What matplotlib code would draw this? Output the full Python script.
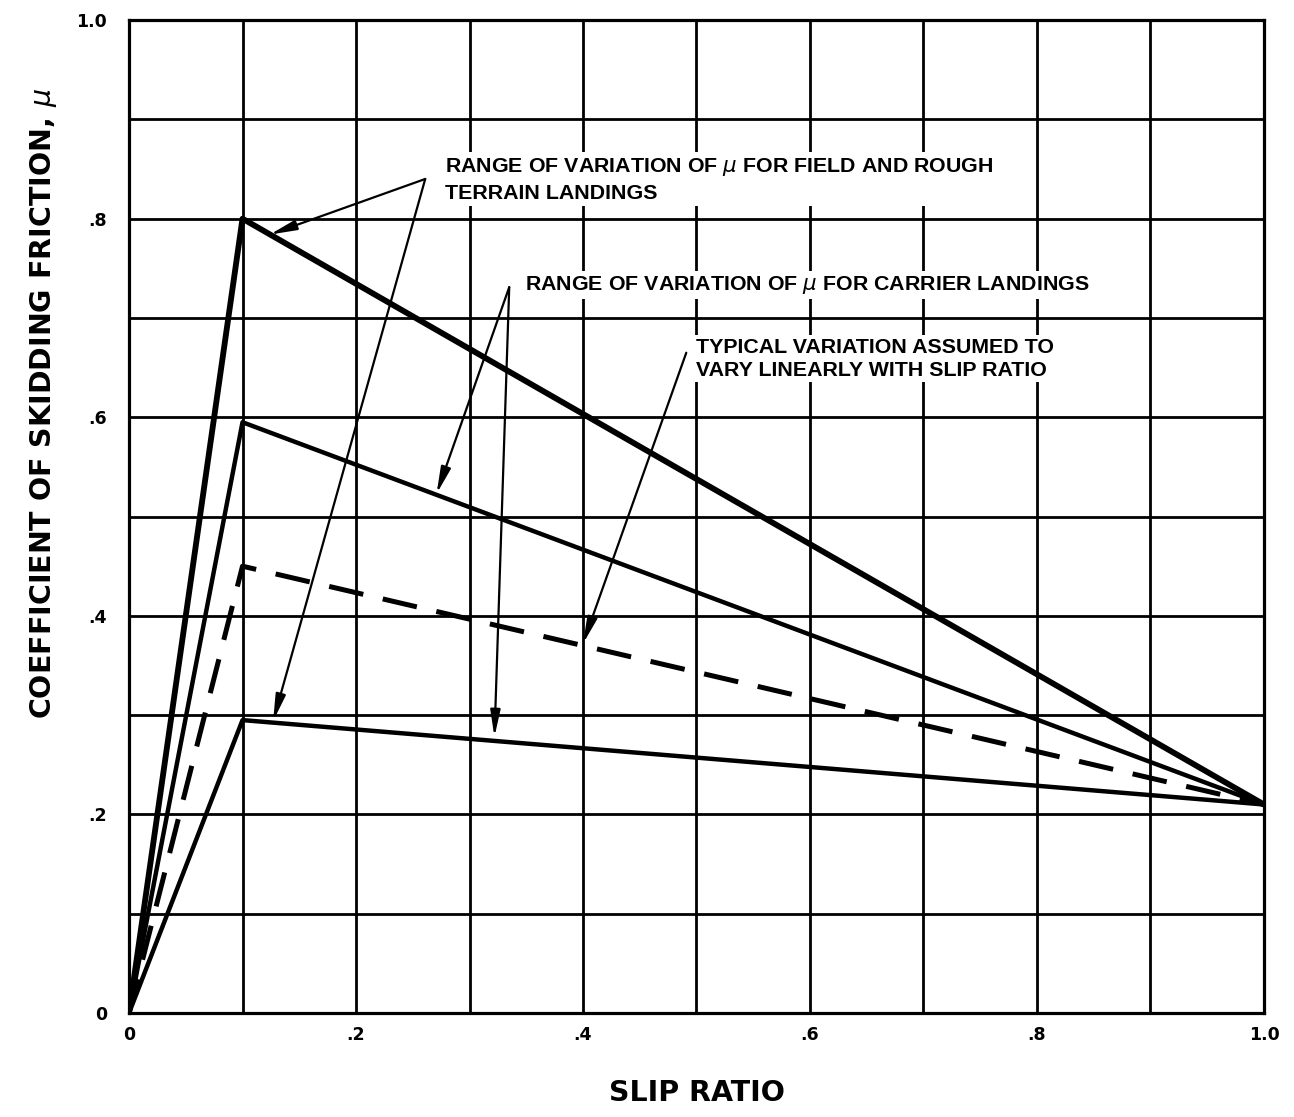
import matplotlib
matplotlib.use("Agg")
import matplotlib.pyplot as plt

# ---- data ----
slip = [0.0, 0.1, 1.0]
field_upper = [0.0, 0.80, 0.21]
carrier_upper = [0.0, 0.595, 0.21]
typical = [0.0, 0.45, 0.21]
lower = [0.0, 0.295, 0.21]

grid_ticks = [i / 10 for i in range(11)]
tick_labels = ["0", "", ".2", "", ".4", "", ".6", "", ".8", "", "1.0"]

ann1_text = "RANGE OF VARIATION OF $\\mu$ FOR FIELD AND ROUGH\nTERRAIN LANDINGS"
ann2_text = "RANGE OF VARIATION OF $\\mu$ FOR CARRIER LANDINGS"
ann3_text = "TYPICAL VARIATION ASSUMED TO\nVARY LINEARLY WITH SLIP RATIO"

fig = plt.figure(figsize=(12.94, 11.17), dpi=100)
ax = fig.add_axes([0.0997, 0.0931, 0.8771, 0.8889])

ax.set_xlim(0, 1.0)
ax.set_ylim(0, 1.0)
ax.set_xticks(grid_ticks)
ax.set_yticks(grid_ticks)
ax.set_xticklabels(tick_labels)
ax.set_yticklabels(tick_labels)
ax.grid(True, color="black", lw=2.0)
ax.set_axisbelow(True)
ax.tick_params(axis="x", length=0, pad=9)
ax.tick_params(axis="y", length=0, pad=16)
for lab in ax.get_xticklabels() + ax.get_yticklabels():
    lab.set_fontweight("bold")
    lab.set_fontsize(12.5)
for s in ax.spines.values():
    s.set_linewidth(2.3)

ax.plot(slip, field_upper, color="black", lw=4.2)
ax.plot(slip, carrier_upper, color="black", lw=3.2)
ax.plot(slip, lower, color="black", lw=3.2)
ax.plot(slip, typical, color="black", lw=3.6, dashes=(7, 4))

tfont = dict(family=["Liberation Sans", "DejaVu Sans"], fontweight="bold", fontsize=15.4,
             bbox=dict(facecolor="white", edgecolor="none", pad=2))
ax.text(0.278, 0.839, ann1_text, ha="left", va="center", linespacing=1.4, **tfont)
ax.text(0.349, 0.733, ann2_text, ha="left", va="center", **tfont)
ax.text(0.50, 0.659, ann3_text, ha="left", va="center", linespacing=1.25, **tfont)

aprops = dict(arrowstyle="-|>,head_length=1.6,head_width=0.3", lw=1.6, color="black",
              shrinkA=0, shrinkB=0)
ax.annotate("", xy=(0.124, 0.784), xytext=(0.261, 0.84), arrowprops=aprops)
ax.annotate("", xy=(0.127, 0.294), xytext=(0.261, 0.84), arrowprops=aprops)
ax.annotate("", xy=(0.271, 0.523), xytext=(0.335, 0.731), arrowprops=aprops)
ax.annotate("", xy=(0.322, 0.278), xytext=(0.335, 0.731), arrowprops=aprops)
ax.annotate("", xy=(0.40, 0.372), xytext=(0.491, 0.665), arrowprops=aprops)

ax.set_xlabel("SLIP RATIO", fontsize=20.5, fontweight="bold")
ax.xaxis.set_label_coords(0.5, -0.066)
ax.set_ylabel("COEFFICIENT OF SKIDDING FRICTION, $\\mu$", fontsize=20.5, fontweight="bold")
ax.yaxis.set_label_coords(-0.062, 0.614)

fig.savefig("out.png", dpi=100)
